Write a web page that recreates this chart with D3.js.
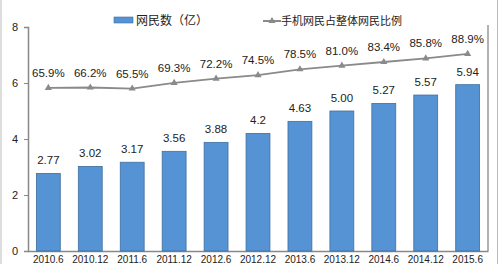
<!DOCTYPE html>
<html>
<head>
<meta charset="utf-8" />
<title>网民数</title>
<style>
body { margin: 0; background: #fff; }
text { font-family: "Noto Sans CJK SC", "Liberation Sans", sans-serif; fill: #222; }
</style>
</head>
<body>
<script src="https://d3js.org/d3.v7.min.js"></script>
<script>
var width = 500,
    height = 264;

var periods = ["2010.6","2010.12","2011.6","2011.12","2012.6","2012.12","2013.6","2013.12","2014.6","2014.12","2015.6"];
var users = [2.77, 3.02, 3.17, 3.56, 3.88, 4.2, 4.63, 5.00, 5.27, 5.57, 5.94];
var userLabels = ["2.77","3.02","3.17","3.56","3.88","4.2","4.63","5.00","5.27","5.57","5.94"];
var mobileShare = [65.9, 66.2, 65.5, 69.3, 72.2, 74.5, 78.5, 81.0, 83.4, 85.8, 88.9];
var yTicks = [0, 2, 4, 6, 8];

var margin = {left: 28, right: 12, top: 27, bottom: 13};

var svg = d3.select("body").append("svg")
    .attr("width", width)
    .attr("height", height);

// faint outer frame of the picture
svg.append("line").attr("x1", 1).attr("x2", 1).attr("y1", 0).attr("y2", height)
    .style("stroke", "#bbb").style("stroke-width", 1);
svg.append("line").attr("x1", 497.5).attr("x2", 497.5).attr("y1", 0).attr("y2", height)
    .style("stroke", "#bbb").style("stroke-width", 1);

var x = d3.scaleBand()
    .domain(periods)
    .range([margin.left, width - margin.right])
    .paddingInner(0.43)
    .paddingOuter(0.2);

var y = d3.scaleLinear()
    .domain([0, 8])
    .range([height - margin.bottom, margin.top]);

// hidden secondary scale for the percentage line
var y2 = d3.scaleLinear()
    .domain([-44, 107])
    .range([height - margin.bottom, margin.top]);

// left axis
var yAxis = svg.append("g")
    .attr("transform", "translate(" + margin.left + ",0)")
    .call(d3.axisLeft(y).tickValues(yTicks).tickSize(4).tickPadding(6));
yAxis.select(".domain").style("stroke", "#888").style("stroke-width", 1.5);
yAxis.selectAll(".tick line").style("stroke", "#888");
yAxis.selectAll(".tick text").style("font-size", "11px").style("font-family", "Liberation Sans, sans-serif").style("fill", "#222");

// right frame line
svg.append("line")
    .attr("x1", width - margin.right).attr("x2", width - margin.right)
    .attr("y1", margin.top - 2).attr("y2", height - margin.bottom)
    .style("stroke", "#999").style("stroke-width", 1.5);

// bottom axis
var xAxis = svg.append("g")
    .attr("transform", "translate(0," + (height - margin.bottom) + ")")
    .call(d3.axisBottom(x).tickSize(0).tickPadding(5));
xAxis.select(".domain").style("stroke", "#888").style("stroke-width", 1.5);
xAxis.selectAll(".tick text").style("font-size", "10px").style("font-family", "Liberation Sans, sans-serif").style("fill", "#222");

// bars
svg.selectAll(".bar")
    .data(users)
    .enter()
    .append("rect")
    .attr("class", "bar")
    .attr("x", function(d, i) { return x(periods[i]); })
    .attr("y", function(d) { return y(d); })
    .attr("width", x.bandwidth())
    .attr("height", function(d) { return y(0) - y(d); })
    .style("fill", "#5593d4")
    .style("stroke", "#3f6f9f")
    .style("stroke-width", 0.8);

svg.selectAll(".bar-label")
    .data(users)
    .enter()
    .append("text")
    .attr("class", "bar-label")
    .attr("x", function(d, i) { return x(periods[i]) + x.bandwidth() / 2; })
    .attr("y", function(d) { return y(d) - 9; })
    .attr("text-anchor", "middle")
    .style("font-size", "11.5px")
    .style("font-family", "Liberation Sans, sans-serif")
    .text(function(d, i) { return userLabels[i]; });

// share line
var line = d3.line()
    .x(function(d, i) { return x(periods[i]) + x.bandwidth() / 2; })
    .y(function(d) { return y2(d); });

svg.append("path")
    .datum(mobileShare)
    .attr("d", line)
    .style("fill", "none")
    .style("stroke", "#8a8a8a")
    .style("stroke-width", 1.8);

var tri = d3.symbol().type(d3.symbolTriangle).size(22);

svg.selectAll(".marker")
    .data(mobileShare)
    .enter()
    .append("path")
    .attr("class", "marker")
    .attr("d", tri)
    .attr("transform", function(d, i) {
      return "translate(" + (x(periods[i]) + x.bandwidth() / 2) + "," + y2(d) + ")";
    })
    .style("fill", "#8a8a8a");

svg.selectAll(".share-label")
    .data(mobileShare)
    .enter()
    .append("text")
    .attr("class", "share-label")
    .attr("x", function(d, i) { return x(periods[i]) + x.bandwidth() / 2; })
    .attr("y", function(d) { return y2(d) - 11; })
    .attr("text-anchor", "middle")
    .style("font-size", "11.5px")
    .style("font-family", "Liberation Sans, sans-serif")
    .text(function(d) { return d.toFixed(1) + "%"; });

// legend
var lg = svg.append("g");
lg.append("rect")
    .attr("x", 114).attr("y", 17).attr("width", 19).attr("height", 6)
    .style("fill", "#5593d4").style("stroke", "#3f6f9f").style("stroke-width", 0.6);
lg.append("text")
    .attr("x", 136).attr("y", 24.5)
    .style("font-size", "12px")
    .text("网民数（亿）");

lg.append("line")
    .attr("x1", 263).attr("x2", 281).attr("y1", 21).attr("y2", 21)
    .style("stroke", "#8a8a8a").style("stroke-width", 2);
lg.append("path")
    .attr("d", tri)
    .attr("transform", "translate(272,21)")
    .style("fill", "#8a8a8a");
lg.append("text")
    .attr("x", 281).attr("y", 25)
    .style("font-size", "11px")
    .text("手机网民占整体网民比例");
</script>
</body>
</html>
